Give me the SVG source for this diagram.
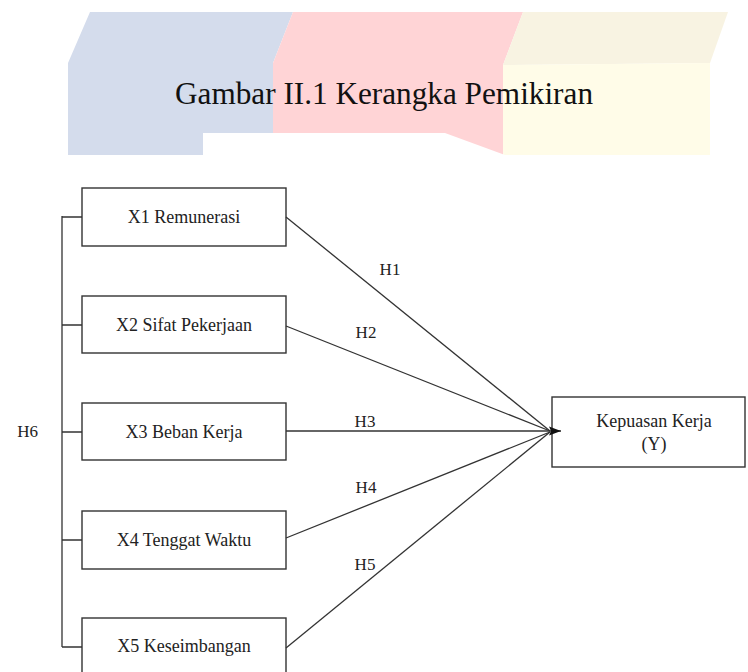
<svg xmlns="http://www.w3.org/2000/svg" width="748" height="672" viewBox="0 0 748 672">
<style>
.box{fill:#fff;stroke:#333;stroke-width:1.4}
.lbl{font-family:"Liberation Serif","Times New Roman",serif;font-size:18px;fill:#222;text-anchor:middle}
.h{font-family:"Liberation Serif","Times New Roman",serif;font-size:17px;fill:#222;text-anchor:middle}
.ln{stroke:#333;stroke-width:1.3;fill:none}
</style>
<defs>
<marker id="arr" markerWidth="14" markerHeight="12" refX="12" refY="6" orient="auto" markerUnits="userSpaceOnUse">
<path d="M0,1.5 L12,6 L0,10.5 L2,6 Z" fill="#111"/>
</marker>
</defs>
<rect width="748" height="672" fill="#fff"/>
<g id="background">
<polygon points="90,12 293,12 273,63 273,155 68,155 68,63" fill="#d4dcec"/>
<polygon points="293,12 523,12 503,65 503,155 273,155 273,63" fill="#ffd4d6"/>
<polygon points="523,12 728,12 710,63 503,65" fill="#f8f3e2"/>
<polygon points="503,65 710,63 710,155 503,155" fill="#fffce8"/>
<polygon points="203,133 445,133 505,155 203,155" fill="#fff"/>
</g>
<text id="title" x="175" y="104" font-family="'Liberation Serif','Times New Roman',serif" font-size="31" fill="#111" textLength="418" lengthAdjust="spacingAndGlyphs">Gambar II.1 Kerangka Pemikiran</text>
<g id="x1"><rect class="box" x="82" y="188" width="204" height="58"/><text class="lbl" x="184" y="223">X1 Remunerasi</text></g>
<g id="x2"><rect class="box" x="82" y="296" width="204" height="57"/><text class="lbl" x="184" y="331">X2 Sifat Pekerjaan</text></g>
<g id="x3"><rect class="box" x="82" y="403" width="204" height="57"/><text class="lbl" x="184" y="438">X3 Beban Kerja</text></g>
<g id="x4"><rect class="box" x="82" y="511" width="204" height="58"/><text class="lbl" x="184" y="546">X4 Tenggat Waktu</text></g>
<g id="x5"><rect class="box" x="82" y="618" width="204" height="60"/><text class="lbl" x="184" y="652">X5 Keseimbangan</text></g>
<g id="y"><rect class="box" x="552" y="397" width="193" height="70"/><text class="lbl" x="654" y="427">Kepuasan Kerja</text><text class="lbl" x="654" y="450">(Y)</text></g>
<g id="connectors">
<path class="ln" d="M62,216 V647 M62,217 H82 M62,325 H82 M62,432 H82 M62,540 H82 M62,647 H82"/>
<line class="ln" x1="286" y1="217" x2="550" y2="431"/>
<line class="ln" x1="286" y1="326" x2="550" y2="431"/>
<line class="ln" x1="286" y1="431" x2="561" y2="431" marker-end="url(#arr)"/>
<line class="ln" x1="286" y1="538" x2="550" y2="432"/>
<line class="ln" x1="286" y1="648" x2="550" y2="432"/>
<text class="h" x="390" y="275">H1</text>
<text class="h" x="366" y="338">H2</text>
<text class="h" x="365" y="427">H3</text>
<text class="h" x="366" y="493">H4</text>
<text class="h" x="365" y="570">H5</text>
<text class="h" x="38" y="437" style="text-anchor:end">H6</text>
</g>
</svg>
